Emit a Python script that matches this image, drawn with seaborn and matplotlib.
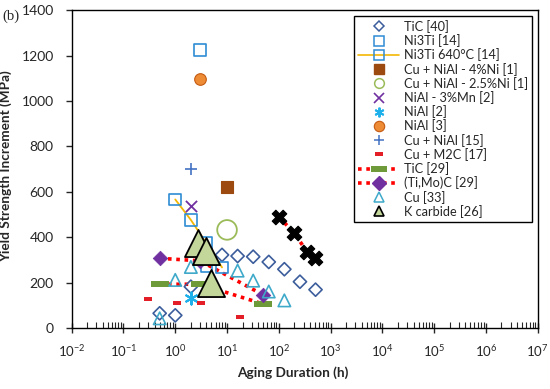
import matplotlib
matplotlib.use("Agg")
import matplotlib.pyplot as plt
from matplotlib.lines import Line2D
from matplotlib.markers import MarkerStyle
import seaborn as sns

sns.set_style("white")
plt.rcParams['font.family'] = ['Lato', 'DejaVu Sans']
plt.rcParams['mathtext.fontset'] = 'custom'
plt.rcParams['mathtext.rm'] = 'Lato'

# ---------------- data ----------------
tic40_x = [0.5, 1, 2, 8, 16, 32, 64, 128, 256, 512]
tic40_y = [66, 57, 183, 323, 318, 315, 292, 260, 205, 170]

ni3ti_x = [3, 4]
ni3ti_y = [1224, 272]

ni3ti640_x = [1, 2, 4, 8]
ni3ti640_y = [567, 477, 374, 268]

cunial4_x = [10]
cunial4_y = [620]

cunial25_x = [10]
cunial25_y = [433]

nialmn_x = [2]
nialmn_y = [538]

nial2_x = [2]
nial2_y = [132]

nial3_x = [3]
nial3_y = [1098]

cunial15_x = [2]
cunial15_y = [699]

cum2c_x = [0.3, 1.1, 3.2, 18]
cum2c_y = [128, 110, 110, 51]

tic29_x = [0.5, 3, 50]
tic29_y = [194, 194, 107]

timoc_x = [0.5, 3, 50]
timoc_y = [308, 297, 147]

cu33_x = [0.5, 1, 2, 16, 32, 64, 128]
cu33_y = [44, 213, 270, 254, 210, 162, 123]

kcarb_x = [2.7, 3.9, 5.0]
kcarb_y = [374, 342, 200]

blackx_x = [100, 200, 350, 500]
blackx_y = [491, 418, 337, 308]

labels = ["TiC [40]", "Ni3Ti [14]", "Ni3Ti 640°C [14]", "Cu + NiAl - 4%Ni [1]",
          "Cu + NiAl - 2.5%Ni [1]", "NiAl - 3%Mn [2]", "NiAl [2]", "NiAl [3]",
          "Cu + NiAl [15]", "Cu + M2C [17]", "TiC [29]", "(Ti,Mo)C [29]",
          "Cu [33]", "K carbide [26]"]
y_ticks = [0, 200, 400, 600, 800, 1000, 1200, 1400]

# ---------------- styles ----------------
c_tic40 = '#3C5D9C'
c_ni3ti = '#2E8BD3'
c_orange_line = '#F2B705'
c_brown = '#9C4A10'
c_lgreen = '#9BBB59'
c_purple = '#7030A0'
c_cyan = '#1EB0EA'
c_orange = '#ED8C35'
c_plus = '#4472C4'
c_red = '#E41E26'
c_green = '#6F9A3A'
c_cu33 = '#3FA9C9'
c_kfill = '#C4D79B'

dash_small = MarkerStyle([(-1, -0.45), (1, -0.45), (1, 0.45), (-1, 0.45)])
dash_green = MarkerStyle([(-1, -0.38), (1, -0.38), (1, 0.38), (-1, 0.38)])
asterisk = MarkerStyle((6, 2, 0))
dot_ls = (0, (1, 1.3))

fig = plt.figure(figsize=(5.5, 3.89), dpi=100)
ax = fig.add_axes([0.1304, 0.156, 0.8472, 0.818])

ax.set_xscale('log')

# lines
sns.lineplot(x=ni3ti640_x, y=ni3ti640_y, ax=ax, color=c_orange_line, linewidth=1.3, sort=False)
sns.lineplot(x=tic29_x, y=tic29_y, ax=ax, color='#FF0000', linestyle=dot_ls, linewidth=2.6, sort=False)
sns.lineplot(x=timoc_x, y=timoc_y, ax=ax, color='#FF0000', linestyle=dot_ls, linewidth=2.6, sort=False)
sns.lineplot(x=blackx_x, y=blackx_y, ax=ax, color='#FF0000', linestyle=dot_ls, linewidth=2.6, sort=False)

# markers
sns.scatterplot(x=tic40_x, y=tic40_y, ax=ax, marker='D', s=45, color=c_tic40,
                facecolor='none', edgecolor=c_tic40, linewidth=1.2, zorder=3)
sns.scatterplot(x=ni3ti_x, y=ni3ti_y, ax=ax, marker='s', s=72, color=c_ni3ti,
                facecolor='none', edgecolor=c_ni3ti, linewidth=1.2, zorder=3)
sns.scatterplot(x=ni3ti640_x, y=ni3ti640_y, ax=ax, marker='s', s=72, color=c_ni3ti,
                facecolor='none', edgecolor=c_ni3ti, linewidth=1.2, zorder=3)
sns.scatterplot(x=cunial4_x, y=cunial4_y, ax=ax, marker='s', s=75, color=c_brown,
                edgecolor=c_brown, linewidth=0.8, zorder=3)
sns.scatterplot(x=cunial25_x, y=cunial25_y, ax=ax, marker='o', s=200, color=c_lgreen,
                facecolor='none', edgecolor=c_lgreen, linewidth=1.3, zorder=3)
sns.scatterplot(x=nialmn_x, y=nialmn_y, ax=ax, marker='x', s=65, color=c_purple,
                linewidth=1.3, zorder=3)
sns.scatterplot(x=nial2_x, y=nial2_y, ax=ax, marker=asterisk, s=75, color=c_cyan,
                edgecolor=c_cyan, linewidth=1.5, zorder=3)
sns.scatterplot(x=nial3_x, y=nial3_y, ax=ax, marker='o', s=70, color=c_orange,
                edgecolor='#C55A11', linewidth=0.8, zorder=3)
sns.scatterplot(x=cunial15_x, y=cunial15_y, ax=ax, marker='+', s=65, color=c_plus,
                linewidth=1.2, zorder=3)
sns.scatterplot(x=cum2c_x, y=cum2c_y, ax=ax, marker=dash_small, s=40, color=c_red,
                edgecolor=c_red, linewidth=0, zorder=3)
sns.scatterplot(x=tic29_x, y=tic29_y, ax=ax, marker=dash_green, s=150, color=c_green,
                edgecolor=c_green, linewidth=0, zorder=3)
sns.scatterplot(x=timoc_x, y=timoc_y, ax=ax, marker='D', s=55, color=c_purple,
                edgecolor=c_purple, linewidth=0.5, zorder=3)
sns.scatterplot(x=cu33_x, y=cu33_y, ax=ax, marker='^', s=80, color=c_cu33,
                facecolor='none', edgecolor=c_cu33, linewidth=1.2, zorder=3)
sns.scatterplot(x=kcarb_x, y=kcarb_y, ax=ax, marker='^', s=380, color=c_kfill,
                edgecolor='black', linewidth=1.3, zorder=4)
sns.scatterplot(x=blackx_x, y=blackx_y, ax=ax, marker='X', s=110, color='black',
                edgecolor='black', linewidth=0.8, zorder=4)

# axes
ax.set_xlim(1e-2, 1e7)
ax.set_ylim(0, 1400)
ax.set_yticks(y_ticks)
ax.set_xticks([10.0 ** k for k in range(-2, 8)])
for s in ax.spines.values():
    s.set_visible(True)
    s.set_color('black')
    s.set_linewidth(1.0)
ax.tick_params(axis='x', which='major', direction='inout', length=7, width=1,
               labelsize=9.5, pad=7, bottom=True, top=False)
ax.tick_params(axis='x', which='minor', direction='in', length=4, width=0.8,
               bottom=True, top=False)
ax.tick_params(axis='y', which='major', direction='out', length=4, width=1,
               labelsize=10, pad=9, left=True, right=False)
ax.grid(False)

ax.set_xlabel('Aging Duration (h)', fontsize=9.8, fontweight='bold')
ax.set_ylabel('Yield Strength Increment (MPa)', fontsize=9.8, fontweight='bold')
ax.xaxis.set_label_coords(0.475, -0.118)
ax.yaxis.set_label_coords(-0.128, 0.51)

fig.text(0.005, 0.975, '(b)', fontsize=10.5, family='Liberation Serif', va='top')

# legend
handles = [
    Line2D([], [], ls='none', marker='D', ms=5.5, mfc='none', mec=c_tic40, mew=1.1),
    Line2D([], [], ls='none', marker='s', ms=7, mfc='none', mec=c_ni3ti, mew=1.1),
    Line2D([], [], ls='-', color=c_orange_line, lw=1.2, marker='s', ms=7, mfc='none', mec=c_ni3ti, mew=1.1),
    Line2D([], [], ls='none', marker='s', ms=7, mfc=c_brown, mec=c_brown),
    Line2D([], [], ls='none', marker='o', ms=7, mfc='none', mec=c_lgreen, mew=1.1),
    Line2D([], [], ls='none', marker='x', ms=7, mec=c_purple, mew=1.2),
    Line2D([], [], ls='none', marker=asterisk, ms=7, mec=c_cyan, mew=1.4),
    Line2D([], [], ls='none', marker='o', ms=7.5, mfc=c_orange, mec='#C55A11', mew=0.8),
    Line2D([], [], ls='none', marker='+', ms=7.5, mec=c_plus, mew=1.1),
    Line2D([], [], ls='none', marker=dash_small, ms=6, mfc=c_red, mec=c_red, mew=0),
    Line2D([], [], ls=dot_ls, color='#FF0000', lw=2.6, marker=dash_green, ms=12, mfc=c_green, mec=c_green, mew=0),
    Line2D([], [], ls=dot_ls, color='#FF0000', lw=2.6, marker='D', ms=7, mfc=c_purple, mec=c_purple),
    Line2D([], [], ls='none', marker='^', ms=7.5, mfc='none', mec=c_cu33, mew=1.1),
    Line2D([], [], ls='none', marker='^', ms=7, mfc=c_kfill, mec='black', mew=1.2),
]
leg = ax.legend(handles=handles, labels=labels, loc='upper right',
                bbox_to_anchor=(0.988, 0.981), fontsize=9.2, frameon=True,
                fancybox=False, framealpha=1, edgecolor='black',
                handlelength=3.2, handletextpad=0.4, labelspacing=0.1,
                borderpad=0.3, borderaxespad=0)
leg.get_frame().set_linewidth(1.0)

fig.savefig('out.png', dpi=100)
